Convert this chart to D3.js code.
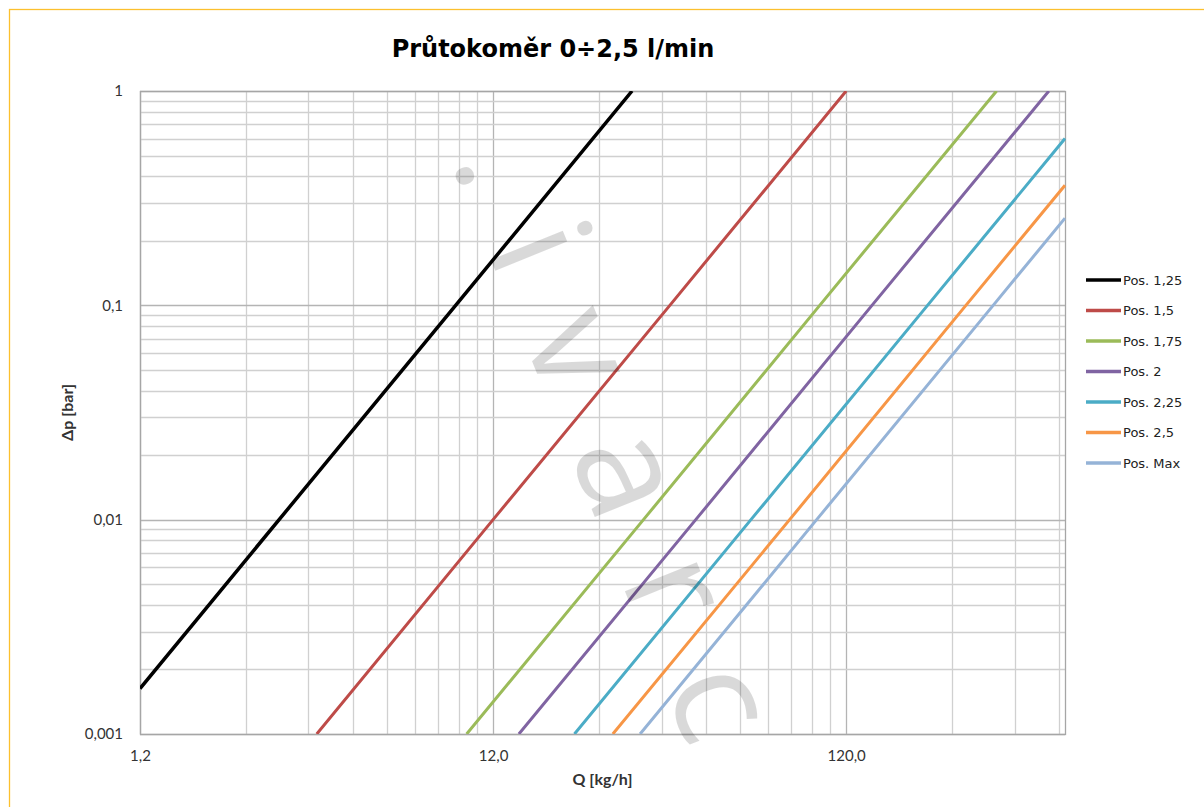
<!DOCTYPE html>
<html>
<head>
<meta charset="utf-8">
<script src="https://cdn.jsdelivr.net/npm/d3@7"></script>
<style>
  html, body { margin: 0; padding: 0; background: #fff; }
  svg { display: block; }
</style>
</head>
<body>
<svg id="chart" width="1204" height="807"></svg>
<script>
// ---- data ----
const title = "Průtokoměr 0÷2,5 l/min";
const xTitle = "Q [kg/h]";
const yTitle = "Δp [bar]";
const watermark = ".ivarc";
const xDomain = [1.2, 500];
const yDomain = [0.001, 1];
const xTickValues = [1.2, 12, 120];
const xTickLabels = ["1,2", "12,0", "120,0"];
const yTickValues = [1, 0.1, 0.01, 0.001];
const yTickLabels = ["1", "0,1", "0,01", "0,001"];

const seriesNames = ["Pos. 1,25", "Pos. 1,5", "Pos. 1,75", "Pos. 2", "Pos. 2,25", "Pos. 2,5", "Pos. Max"];
const seriesColors = ["#000000", "#be4b48", "#9bbb59", "#8064a2", "#4bacc6", "#f79646", "#95b3d7"];
// Q [kg/h] and Δp [bar] points along each curve
const qPos125 = [1.2, 9.4, 29.7];
const pPos125 = [0.00163, 0.1, 1];
const qPos15 = [3.8, 12, 38, 120];
const pPos15 = [0.001, 0.01, 0.1, 1];
const qPos175 = [10.1, 32, 101, 320];
const pPos175 = [0.001, 0.01, 0.1, 1];
const qPos2 = [14.2, 45, 142, 450];
const pPos2 = [0.001, 0.01, 0.1, 1];
const qPos225 = [20.4, 64.5, 204, 500];
const pPos225 = [0.001, 0.01, 0.1, 0.6];
const qPos25 = [26.2, 83, 262, 500];
const pPos25 = [0.001, 0.01, 0.1, 0.363];
const qPosMax = [31.3, 99, 313, 500];
const pPosMax = [0.001, 0.01, 0.1, 0.255];

const seriesQ = [qPos125, qPos15, qPos175, qPos2, qPos225, qPos25, qPosMax];
const seriesP = [pPos125, pPos15, pPos175, pPos2, pPos225, pPos25, pPosMax];

// ---- layout ----
const svg = d3.select("#chart");
const L = 140, R = 1065, T = 91, B = 734;
const x = d3.scaleLog().domain(xDomain).range([L, R]);
const y = d3.scaleLog().domain(yDomain).range([B, T]);

// outer frame
svg.append("rect").attr("x", 9.5).attr("y", 9.5).attr("width", 1300).attr("height", 900)
  .attr("fill", "none").attr("stroke", "#fcc02e").attr("stroke-width", 1.3);

// grid lines
const xGrid = [];
[1.2, 12, 120].forEach(b => { for (let k = 1; k <= 9; k++) { const v = b * k; if (v <= xDomain[1] * 1.0001) xGrid.push({v, major: k === 1}); } });
const yGrid = [];
[0.001, 0.01, 0.1].forEach(b => { for (let k = 1; k <= 9; k++) yGrid.push({v: b * k, major: k === 1}); });
yGrid.push({v: 1, major: true});

const grid = svg.append("g");
grid.selectAll("line.gx").data(xGrid).join("line")
  .attr("x1", d => Math.round(x(d.v)) + 0.5).attr("x2", d => Math.round(x(d.v)) + 0.5)
  .attr("y1", T).attr("y2", B)
  .attr("stroke", d => d.major ? "#b4b4b4" : "#d0d0d0").attr("stroke-width", 1.3);
grid.selectAll("line.gy").data(yGrid).join("line")
  .attr("y1", d => Math.round(y(d.v)) + 0.5).attr("y2", d => Math.round(y(d.v)) + 0.5)
  .attr("x1", L).attr("x2", R)
  .attr("stroke", d => d.major ? "#b4b4b4" : "#d0d0d0").attr("stroke-width", 1.3);

// plot frame
svg.append("rect").attr("x", L + 0.5).attr("y", T + 0.5).attr("width", R - L).attr("height", B - T)
  .attr("fill", "none").attr("stroke", "#a6a6a6").attr("stroke-width", 1.3);

// clip
svg.append("clipPath").attr("id", "plotclip").append("rect")
  .attr("x", L).attr("y", T).attr("width", R - L + 1).attr("height", B - T);

const line = d3.line().x(d => x(d[0])).y(d => y(d[1]));
const lines = svg.append("g").attr("clip-path", "url(#plotclip)");
seriesNames.forEach((name, i) => {
  const pts = seriesQ[i].map((q, j) => [q, seriesP[i][j]]);
  lines.append("path").datum(pts).attr("d", line)
    .attr("fill", "none").attr("stroke", seriesColors[i])
    .attr("stroke-width", i === 0 ? 3.5 : 3).attr("stroke-linecap", "butt");
});

// axes
const tickFont = "Lato, 'Liberation Sans', sans-serif";
const xAxis = d3.axisBottom(x).tickValues(xTickValues).tickFormat((d, i) => xTickLabels[i]).tickSize(0).tickPadding(16);
const gx = svg.append("g").attr("transform", `translate(0,${B})`).call(xAxis);
gx.select(".domain").remove();
gx.selectAll("text").attr("font-family", tickFont).attr("font-size", 15).attr("fill", "#333");

const yAxis = d3.axisLeft(y).tickValues(yTickValues).tickFormat((d, i) => yTickLabels[i]).tickSize(0).tickPadding(17);
const gy = svg.append("g").attr("transform", `translate(${L},0)`).call(yAxis);
gy.select(".domain").remove();
gy.selectAll("text").attr("font-family", tickFont).attr("font-size", 15).attr("fill", "#333");

// titles
svg.append("text").attr("x", 553).attr("y", 57).attr("text-anchor", "middle")
  .attr("font-family", "'DejaVu Sans', Verdana, sans-serif").attr("font-weight", "bold")
  .attr("font-size", 24).attr("fill", "#000").text(title);
svg.append("text").attr("x", (L + R) / 2).attr("y", 785).attr("text-anchor", "middle")
  .attr("font-family", tickFont).attr("font-weight", "bold").attr("font-size", 16).attr("fill", "#333").text(xTitle);
svg.append("text").attr("transform", `translate(67,${(T + B) / 2}) rotate(-90)`).attr("text-anchor", "middle")
  .attr("dy", "0.35em")
  .attr("font-family", tickFont).attr("font-weight", "bold").attr("font-size", 16).attr("fill", "#333").text(yTitle);

// legend
const leg = svg.append("g");
seriesNames.forEach((name, i) => {
  const yy = 280 + i * 30.5;
  leg.append("line").attr("x1", 1086).attr("x2", 1121).attr("y1", yy).attr("y2", yy)
    .attr("stroke", seriesColors[i]).attr("stroke-width", 3.5);
  leg.append("text").attr("x", 1123).attr("y", yy).attr("dy", "0.36em")
    .attr("font-family", "'DejaVu Sans', Verdana, sans-serif").attr("font-size", 13).attr("fill", "#222").text(name);
});

// faint diagonal watermark (spacing between glyphs only, none after the last)
svg.append("text").attr("transform", "translate(451,161) rotate(68)")
  .attr("font-family", "'Open Sans', sans-serif").attr("font-size", 145).attr("font-weight", 400)
  .attr("fill", "#000").attr("fill-opacity", 0.15)
  .attr("dx", watermark.split("").map((c, i) => i === 0 ? 0 : 56).join(" "))
  .text(watermark);
</script>
</body>
</html>
